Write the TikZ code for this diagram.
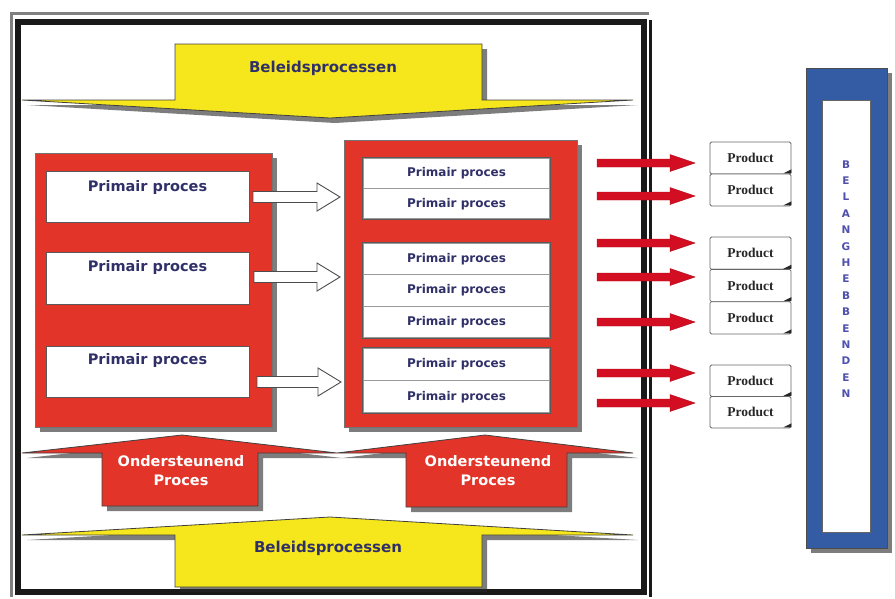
\documentclass[tikz,border=0pt]{standalone}
\usepackage{fontspec}
\setmainfont{DejaVu Sans}
\newfontfamily\prodfont{Liberation Serif}
\usetikzlibrary{shadows,calc}
\definecolor{pred}{RGB}{226,52,40}
\definecolor{pyellow}{RGB}{246,230,28}
\definecolor{pblue}{RGB}{52,92,165}
\definecolor{pnavy}{RGB}{48,48,105}
\definecolor{arred}{RGB}{212,14,34}
\definecolor{lettblue}{RGB}{80,80,175}
\newcommand\flatarrow[6]{% start, end, style, shaft half, head half, head length
  \draw[#3] let \p1=(#1), \p2=(#2) in
    (\x1,\y1+#4) -- (\x2-#6,\y1+#4) -- (\x2-#6,\y1+#5) -- (\x2,\y1)
    -- (\x2-#6,\y1-#5) -- (\x2-#6,\y1-#4) -- (\x1,\y1-#4) -- cycle;}
\begin{document}
\begin{tikzpicture}[x=1pt,y=-1pt,
  shad/.style={drop shadow={shadow xshift=5pt,shadow yshift=-5pt,fill=black!85,opacity=.6}},
  panel/.style={draw=black!55,line width=.6pt,fill=pred,shad,inner sep=0pt},
  whitebox/.style={draw=black!65,line width=.8pt,fill=white,inner sep=0pt},
  rowbox/.style={draw=black!40,line width=1.2pt,fill=white,inner sep=0pt,
    minimum width=187pt,font=\fontsize{12}{14}\selectfont\bfseries,text=pnavy},
  prodbox/.style={draw=black!60,line width=.8pt,fill=white,inner sep=0pt,rounded corners=1.5pt,
    minimum width=81pt,font=\prodfont\fontsize{13.5}{15}\selectfont\bfseries,text=black!85},
  bigtext/.style={font=\fontsize{15}{18}\selectfont\bfseries,text=pnavy,inner sep=0pt},
  ptext/.style={font=\fontsize{14.5}{17}\selectfont\bfseries,text=pnavy,inner sep=0pt},
  otext/.style={font=\fontsize{14.5}{19}\selectfont\bfseries,text=white,align=center,inner sep=0pt},
  yshape/.style={fill=pyellow,draw=black!75,line width=.8pt,shad},
  rshape/.style={fill=pred,draw=black!75,line width=.8pt,shad},
  warrow/.style={fill=white,draw=black!70,line width=.9pt},
  rarrow/.style={fill=arred,draw=arred!80!black,line width=.4pt}
]
\useasboundingbox (0,0) rectangle (895,598);

% outer frame
\draw[black!50,line width=3pt] (11,597) -- (11,13) -- (649,13);
\draw[black!90,line width=6pt] (18,22) rectangle (644,592);
\draw[black!90,line width=3pt] (650,20) -- (650,597);

% top policy arrow
\draw[yshape] (22,100) -- (175,100) -- (175,44) -- (482,44) -- (482,100) -- (633,100) -- (330,118) -- cycle;
\node[bigtext] (btop) at (323,68) {Beleidsprocessen};

% bottom policy arrow
\draw[yshape] (22,535) -- (330,517) -- (633,535) -- (482,535) -- (482,587) -- (175,587) -- (175,535) -- cycle;
\node[bigtext] (bbot) at (328,548) {Beleidsprocessen};

% supporting process arrows
\draw[rshape] (22,453) -- (182,435) -- (337,453) -- (258,453) -- (258,506) -- (102,506) -- (102,453) -- cycle;
\draw[rshape] (337,453) -- (485,435) -- (633,453) -- (567,453) -- (567,507) -- (406,507) -- (406,453) -- cycle;
\node[otext] (ond1) at (181,471) {Ondersteunend\\Proces};
\node[otext] (ond2) at (488,471) {Ondersteunend\\Proces};

% left panel
\node[panel,minimum width=237pt,minimum height=274pt] (lpanel) at (153.5,290) {};
\node[whitebox,minimum width=203pt,minimum height=51pt] (L1) at (147.5,196.5) {};
\node[whitebox,minimum width=203pt,minimum height=52pt] (L2) at (147.5,278) {};
\node[whitebox,minimum width=203pt,minimum height=51pt] (L3) at (147.5,371.5) {};
\node[ptext] (L1t) at ($(L1.north)+(0,17)$) {Primair proces};
\node[ptext] (L2t) at ($(L2.north)+(0,16)$) {Primair proces};
\node[ptext] (L3t) at ($(L3.north)+(0,15)$) {Primair proces};

% right panel
\node[panel,minimum width=233pt,minimum height=287pt] (rpanel) at (460.5,283.5) {};
\foreach \n/\y/\h in {R1/173.25/30.5, R2/203.75/30.5,
                      R3/258.8/31.67, R4/290.5/31.67, R5/322.2/31.67,
                      R6/364.25/32.5, R7/396.75/32.5}{
  \node[rowbox,minimum height=\h pt] (\n) at (456.5,\y) {Primair proces};
}
\draw[black!65,line width=.8pt] (R1.north west) rectangle (R2.south east);
\draw[black!65,line width=.8pt] (R3.north west) rectangle (R5.south east);
\draw[black!65,line width=.8pt] (R6.north west) rectangle (R7.south east);

% hollow arrows
\coordinate (w1s) at (253,197); \coordinate (w1e) at (340,197);
\coordinate (w2s) at (254,277); \coordinate (w2e) at (340,277);
\coordinate (w3s) at (257,382); \coordinate (w3e) at (341,382);
\flatarrow{w1s}{w1e}{warrow}{5.5pt}{14pt}{23pt}
\flatarrow{w2s}{w2e}{warrow}{5.5pt}{14pt}{23pt}
\flatarrow{w3s}{w3e}{warrow}{5.5pt}{14pt}{23pt}

% red output arrows
\foreach \i/\y in {1/163,2/196,3/243,4/277,5/322,6/373,7/403}{
  \coordinate (a\i s) at (597,\y);
  \coordinate (a\i e) at (695,\y);
  \flatarrow{a\i s}{a\i e}{rarrow}{4pt}{8.5pt}{25pt}
}

% products
\foreach \n/\y/\h in {P1/158/32, P2/190/32,
                      P3/253.2/32.3, P4/285.5/32.3, P5/317.8/32.3,
                      P6/380.75/31.5, P7/412.25/31.5}{
  \node[prodbox,minimum height=\h pt] (\n) at (750.5,\y) {Product};
  \fill[black!85] ($(\n.south east)+(-8,-1)$) -- ($(\n.south east)+(0,-5)$) -- ($(\n.south east)+(0,-1)$) -- cycle;
}

% stakeholders
\node[draw=black!70,line width=.8pt,fill=pblue,shad,inner sep=0pt,minimum width=81pt,minimum height=480pt] (belout) at (846.5,308) {};
\node[draw=black!60,line width=.6pt,fill=white,inner sep=0pt,minimum width=48pt,minimum height=432pt] (belin) at (846,316) {};
\node[font=\fontsize{10.5}{16.4}\selectfont\bfseries,text=lettblue,align=center,inner sep=0pt] (bel) at (846,279)
  {B\\E\\L\\A\\N\\G\\H\\E\\B\\B\\E\\N\\D\\E\\N};
\end{tikzpicture}
\end{document}
